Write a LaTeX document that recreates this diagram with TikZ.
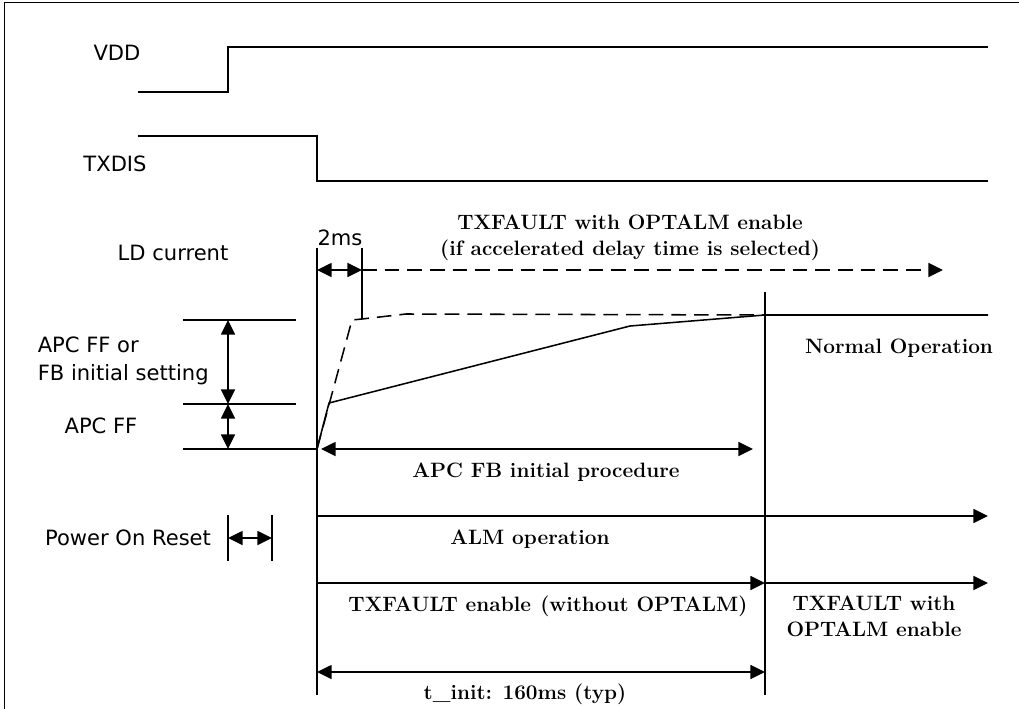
\documentclass[tikz,border=0pt]{standalone}
\usepackage{fontspec}
\newfontfamily\dejasans{DejaVu Sans}
\usetikzlibrary{arrows.meta}
\begin{document}
\begin{tikzpicture}[x=0.75pt,y=-0.75pt,
  line width=1.15pt,
  sig/.style={line width=1.15pt},
  tip/.tip={Triangle[length=11pt,width=10.5pt]},
  dbl/.style={{tip}-{tip}},
  fwd/.style={-{tip}},
  dsh/.style={dash pattern=on 11pt off 6pt},
  lab/.style={font=\dejasans\fontsize{15.8}{19}\selectfont, inner sep=0pt},
  blab/.style={font=\fontsize{15.6}{18}\selectfont\bfseries, inner sep=0pt, align=center}
]
\useasboundingbox (0,0) rectangle (1019,709);
% frame
\draw[line width=1.2pt] (4.5,715) -- (4.5,2.5) -- (1025,2.5);

% coordinates
\coordinate (v0) at (138,92);  \coordinate (v1) at (228,92);
\coordinate (v2) at (228,47);  \coordinate (v3) at (988,47);
\coordinate (t0) at (138,136); \coordinate (t1) at (317,136);
\coordinate (t2) at (317,181); \coordinate (t3) at (988,181);
\coordinate (mtop) at (317,248); \coordinate (mbot) at (317,695);
\coordinate (ntop) at (765,292); \coordinate (nbot) at (765,695);
\coordinate (ktop) at (362,248); \coordinate (kbot) at (362,319);
\coordinate (a2l) at (317,270); \coordinate (a2r) at (362,270);
\coordinate (dend) at (943,270);
\coordinate (base) at (317,449);
\coordinate (d1) at (352,320); \coordinate (d2) at (362,319);
\coordinate (d3) at (406,314); \coordinate (join) at (765,315);
\coordinate (s1) at (329,403); \coordinate (s2) at (630,326);
\coordinate (send) at (988,315);
\coordinate (h1l) at (183,320); \coordinate (h1r) at (296,320);
\coordinate (h2l) at (183,404); \coordinate (h2r) at (296,404);
\coordinate (h3l) at (183,449);
\coordinate (b1) at (228,320); \coordinate (b2) at (228,404); \coordinate (b3) at (228,449);
\coordinate (fbl) at (321,449); \coordinate (fbr) at (753,449);
\coordinate (alml) at (317,516); \coordinate (almr) at (988,516);
\coordinate (txl) at (317,583); \coordinate (txm) at (765,583); \coordinate (txr) at (988,583);
\coordinate (til) at (317,672); \coordinate (tir) at (765,672);
\coordinate (p1t) at (228,515); \coordinate (p1b) at (228,561);
\coordinate (p2t) at (272,515); \coordinate (p2b) at (272,561);
\coordinate (p1) at (228,538); \coordinate (p2) at (272,538);

% waveforms
\draw[sig] (v0) -- (v1) -- (v2) -- (v3);
\draw[sig] (t0) -- (t1) -- (t2) -- (t3);
\draw (mtop) -- (mbot);
\draw (ntop) -- (nbot);
\draw (ktop) -- (kbot);
\draw[dbl] (a2l) -- (a2r);
\draw[dsh,fwd] (a2r) -- (dend);
\draw[dsh] (base) -- (d1) -- (d2) -- (d3) -- (join);
\draw (base) -- (s1) -- (s2) -- (join) -- (send);

% left brackets
\draw (h1l) -- (h1r);
\draw (h2l) -- (h2r);
\draw (h3l) -- (base);
\draw[dbl] (b1) -- (b2);
\draw[dbl] (b2) -- (b3);

% timing arrows
\draw[dbl] (fbl) -- (fbr);
\draw[fwd] (alml) -- (almr);
\draw[fwd] (txl) -- (txm);
\draw[fwd] (txm) -- (txr);
\draw[dbl] (til) -- (tir);
\draw (p1t) -- (p1b);
\draw (p2t) -- (p2b);
\draw[dbl] (p1) -- (p2);

% labels
\node[lab] (lvdd) at (117,53) {VDD};
\node[lab] (ltxdis) at (115,164) {TXDIS};
\node[lab] (lld) at (173,253) {LD current};
\node[lab] (l2ms) at (340,238) {2ms};
\node[lab,anchor=west] (lapc1) at (37,345) {APC FF or};
\node[lab,anchor=west] (lapc2) at (37,375) {FB initial setting};
\node[lab] (lapcff) at (101,426) {APC FF};
\node[lab] (lpor) at (128,538) {Power On Reset};

\node[blab] (ltxf1) at (630,222) {TXFAULT with OPTALM enable};
\node[blab] (ltxf2) at (630,250) {(if accelerated delay time is selected)};
\node[blab] (lnorm) at (899,348) {Normal Operation};
\node[blab] (lapcfb) at (546,472) {APC FB initial procedure};
\node[blab] (lalm) at (530,539) {ALM operation};
\node[blab] (ltxen) at (548,606) {TXFAULT enable\hspace{0.45em}(without OPTALM)};
\node[blab] (ltxopt1) at (874,603) {TXFAULT with};
\node[blab] (ltxopt2) at (874,629) {OPTALM enable};
\node[blab] (ltinit) at (525,694) {t\_init: 160ms (typ)};
\end{tikzpicture}
\end{document}
